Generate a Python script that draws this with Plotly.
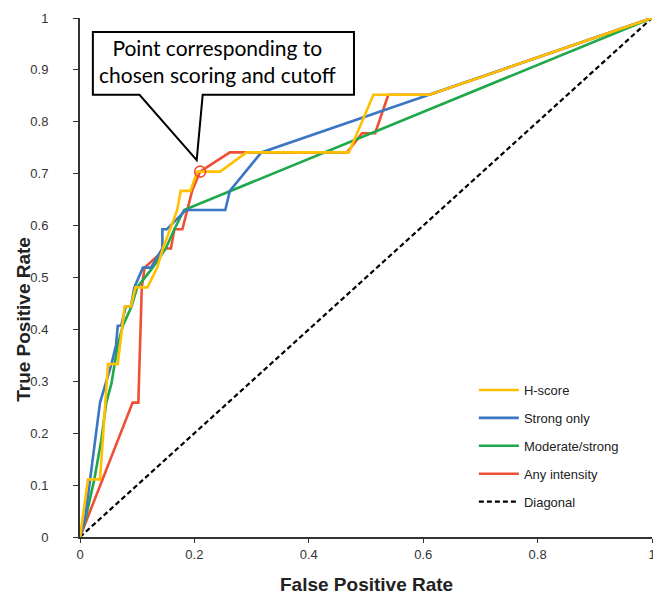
import plotly.graph_objects as go

# ---- data ----
hscore_fpr = [0, 0.014, 0.035, 0.046, 0.049, 0.066, 0.070, 0.078, 0.089, 0.097, 0.118, 0.135, 0.145, 0.158,
              0.170, 0.176, 0.193, 0.205, 0.245, 0.291, 0.470, 0.513, 0.611, 1]
hscore_tpr = [0, 0.111, 0.111, 0.296, 0.333, 0.333, 0.370, 0.444, 0.444, 0.481, 0.481, 0.519, 0.556, 0.593,
              0.630, 0.667, 0.667, 0.704, 0.704, 0.741, 0.741, 0.852, 0.852, 1]

strong_fpr = [0, 0.009, 0.035, 0.045, 0.055, 0.063, 0.066, 0.072, 0.080, 0.089, 0.095, 0.110, 0.124, 0.144,
              0.144, 0.152, 0.185, 0.254, 0.262, 0.317, 1]
strong_tpr = [0, 0.037, 0.259, 0.296, 0.333, 0.370, 0.407, 0.407, 0.444, 0.444, 0.481, 0.519, 0.519, 0.556,
              0.593, 0.593, 0.630, 0.630, 0.667, 0.741, 1]

modstrong_fpr = [0, 0.010, 0.025, 0.037, 0.046, 0.055, 0.066, 0.075, 0.090, 0.100, 0.127, 0.150, 0.165, 0.182, 1]
modstrong_tpr = [0, 0.037, 0.111, 0.185, 0.259, 0.296, 0.370, 0.407, 0.444, 0.481, 0.519, 0.556, 0.593, 0.630, 1]

any_fpr = [0, 0.092, 0.102, 0.106, 0.108, 0.113, 0.150, 0.159, 0.165, 0.179, 0.196, 0.210, 0.262, 0.291,
           0.467, 0.493, 0.516, 0.539, 0.611, 1]
any_tpr = [0, 0.259, 0.259, 0.444, 0.481, 0.519, 0.556, 0.556, 0.593, 0.593, 0.667, 0.704, 0.741, 0.741,
           0.741, 0.778, 0.778, 0.852, 0.852, 1]

diag_fpr = [0, 1]
diag_tpr = [0, 1]

chosen_fpr = [0.210]
chosen_tpr = [0.704]

x_ticks = [0, 0.2, 0.4, 0.6, 0.8, 1]
x_ticktext = ["0", "0.2", "0.4", "0.6", "0.8", "1"]
y_ticks = [0, 0.1, 0.2, 0.3, 0.4, 0.5, 0.6, 0.7, 0.8, 0.9, 1]

callout_text = "Point corresponding to<br>chosen scoring and cutoff"

# ---- styles ----
C_YEL = "#FFC000"
C_BLU = "#3B77C2"
C_GRN = "#1FA84C"
C_RED = "#EE5035"
LW = 2.6

fig = go.Figure()

fig.add_trace(go.Scatter(x=diag_fpr, y=diag_tpr, mode="lines", name="Diagonal",
                         line=dict(color="black", width=2.2, dash="5px,3px"),
                         legendrank=5, legendgroup="e"))
fig.add_trace(go.Scatter(x=any_fpr, y=any_tpr, mode="lines", name="Any intensity",
                         line=dict(color=C_RED, width=LW), legendrank=4, legendgroup="d"))
fig.add_trace(go.Scatter(x=modstrong_fpr, y=modstrong_tpr, mode="lines", name="Moderate/strong",
                         line=dict(color=C_GRN, width=LW), legendrank=3, legendgroup="c"))
fig.add_trace(go.Scatter(x=strong_fpr, y=strong_tpr, mode="lines", name="Strong only",
                         line=dict(color=C_BLU, width=LW), legendrank=2, legendgroup="b"))
fig.add_trace(go.Scatter(x=hscore_fpr, y=hscore_tpr, mode="lines", name="H-score",
                         line=dict(color=C_YEL, width=LW), legendrank=1, legendgroup="a"))
fig.add_trace(go.Scatter(x=chosen_fpr, y=chosen_tpr, mode="markers", showlegend=False,
                         marker=dict(symbol="circle-open", size=11, color=C_RED, line=dict(width=1.6))))

# callout box with pointer (data coordinates)
bx0, bx1, by0, by1 = 0.0225, 0.479, 0.852, 0.973
tl, tr = 0.104, 0.2145
tip_x, tip_y = 0.204, 0.726
path = (f"M {bx0},{by0} L {tl},{by0} L {tip_x},{tip_y} L {tr},{by0} L {bx1},{by0} "
        f"L {bx1},{by1} L {bx0},{by1} Z")
fig.add_shape(type="path", path=path, xref="x", yref="y",
              line=dict(color="black", width=2), fillcolor="white", layer="above")
fig.add_annotation(x=(bx0 + bx1) / 2 - 0.01, y=(by0 + by1) / 2 + 0.004, xref="x", yref="y",
                   text=callout_text,
                   showarrow=False, font=dict(family="Lato", size=21, color="black"),
                   align="center", xanchor="center", yanchor="middle")

axis_font = dict(family="Liberation Sans, Arial", size=13, color="#333")

# page body adds an 8px offset, so the figure is sized to fit the window
fig.update_layout(
    width=653, height=590,
    margin=dict(l=72, r=9, t=10, b=61),
    paper_bgcolor="white", plot_bgcolor="white",
    showlegend=True,
    legend=dict(x=0.6886, y=0.312, xanchor="left", yanchor="top",
                font=dict(family="Liberation Sans, Arial", size=13, color="#222"),
                bgcolor="rgba(0,0,0,0)", tracegroupgap=8, traceorder="grouped",
                itemwidth=40),
    xaxis=dict(range=[0, 1], tickmode="array", tickvals=x_ticks, ticktext=x_ticktext,
               showgrid=False, zeroline=False, automargin=False,
               showline=True, linecolor="#333", linewidth=2, ticks="outside", ticklen=4,
               tickcolor="#333", tickfont=axis_font, ticklabelstandoff=0,
               ticklabeloverflow="allow"),
    yaxis=dict(range=[0, 1], tickvals=y_ticks, showgrid=False, zeroline=False, automargin=False,
               showline=True, linecolor="#333", linewidth=2, ticks="outside", ticklen=5,
               tickcolor="#333", tickfont=axis_font, ticklabelstandoff=22),
)

fig.add_annotation(x=0.5, y=-0.091, xref="paper", yref="paper", text="<b>False Positive Rate</b>",
                   showarrow=False, font=dict(family="Liberation Sans, Arial", size=19, color="#222"),
                   xanchor="center", yanchor="middle")
fig.add_annotation(x=-0.1, y=0.42, xref="paper", yref="paper", text="<b>True Positive Rate</b>",
                   showarrow=False, textangle=-90,
                   font=dict(family="Liberation Sans, Arial", size=19, color="#222"),
                   xanchor="center", yanchor="middle")

fig.write_html("out.html")
